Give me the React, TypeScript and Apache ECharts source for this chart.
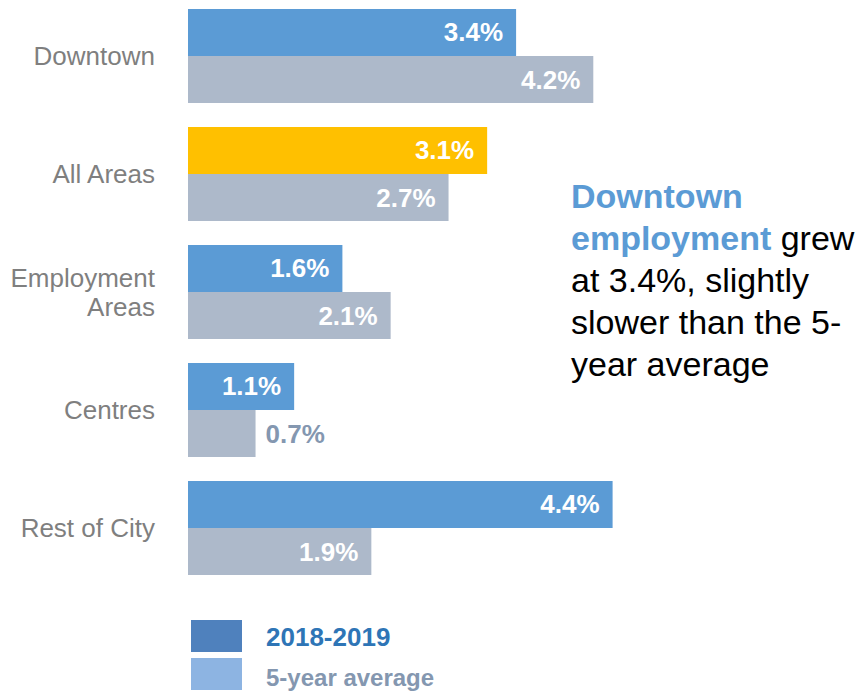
import React, { useEffect, useRef } from "react";
import * as echarts from "echarts";

const categories = ["Downtown", "All Areas", "Employment\nAreas", "Centres", "Rest of City"];
const recent = [3.4, 3.1, 1.6, 1.1, 4.4];
const fiveYear = [4.2, 2.7, 2.1, 0.7, 1.9];
const seriesNames = ["2018-2019", "5-year average"];
const highlightIndex = 1;

const FONT = "'Liberation Sans', Arial, sans-serif";
const BLUE = "#5B9BD5";
const GREY = "#ADB9CA";
const YELLOW = "#FFC000";

export default function App() {
  const ref = useRef<HTMLDivElement>(null);
  useEffect(() => {
    document.body.style.margin = "0";
    if (!ref.current) return;
    const chart = echarts.init(ref.current, undefined, { renderer: "svg" });
    const insideLabel = {
      show: true,
      position: "insideRight",
      distance: 13,
      color: "#fff",
      fontWeight: "bold",
      fontSize: 26,
      fontFamily: FONT,
      formatter: (p: any) => `${Number(p.value).toFixed(1)}%`,
    };
    chart.setOption({
      animation: false,
      grid: { left: 188, top: -3, width: 482.5, height: 590, outerBoundsMode: "none" },
      xAxis: { type: "value", min: 0, max: 5, show: false },
      yAxis: {
        type: "category",
        data: categories,
        inverse: true,
        axisLine: { show: false },
        axisTick: { show: false },
        axisLabel: {
          color: "#7F7F7F",
          fontSize: 26,
          fontFamily: FONT,
          margin: 33,
          lineHeight: 29,
          align: "right",
        },
      },
      series: [
        {
          name: seriesNames[0],
          type: "bar",
          barGap: "0%",
          barCategoryGap: "20.3%",
          label: insideLabel,
          data: recent.map((v, i) => ({
            value: v,
            itemStyle: { color: i === highlightIndex ? YELLOW : BLUE },
          })),
        },
        {
          name: seriesNames[1],
          type: "bar",
          barGap: "0%",
          barCategoryGap: "20.3%",
          itemStyle: { color: GREY },
          label: insideLabel,
          data: fiveYear.map((v) =>
            v < 1
              ? { value: v, label: { position: "right", distance: 10, color: "#8497B0" } }
              : { value: v }
          ),
        },
      ],
      graphic: [
        { type: "rect", shape: { x: 191, y: 620, width: 51, height: 32 }, style: { fill: "#4F81BD" } },
        { type: "rect", shape: { x: 191, y: 658, width: 51, height: 32 }, style: { fill: "#8DB4E2" } },
        {
          type: "text",
          x: 266,
          y: 637,
          style: {
            text: seriesNames[0],
            fill: "#2E75B6",
            font: `bold 26px ${FONT}`,
            verticalAlign: "middle",
          },
        },
        {
          type: "text",
          x: 266,
          y: 677,
          style: {
            text: seriesNames[1],
            fill: "#8497B0",
            font: `bold 24px ${FONT}`,
            verticalAlign: "middle",
          },
        },
        {
          type: "text",
          x: 571,
          y: 175,
          style: {
            text: "{b|Downtown}\n{b|employment} grew\nat 3.4%, slightly\nslower than the 5-\nyear average",
            fill: "#000",
            fontSize: 34,
            fontFamily: FONT,
            lineHeight: 42,
            rich: {
              b: { fill: BLUE, fontWeight: "bold", fontSize: 34, fontFamily: FONT, lineHeight: 42 },
            },
          },
        },
      ],
    });
    return () => chart.dispose();
  }, []);
  return <div ref={ref} style={{ width: 867, height: 692 }} />;
}
